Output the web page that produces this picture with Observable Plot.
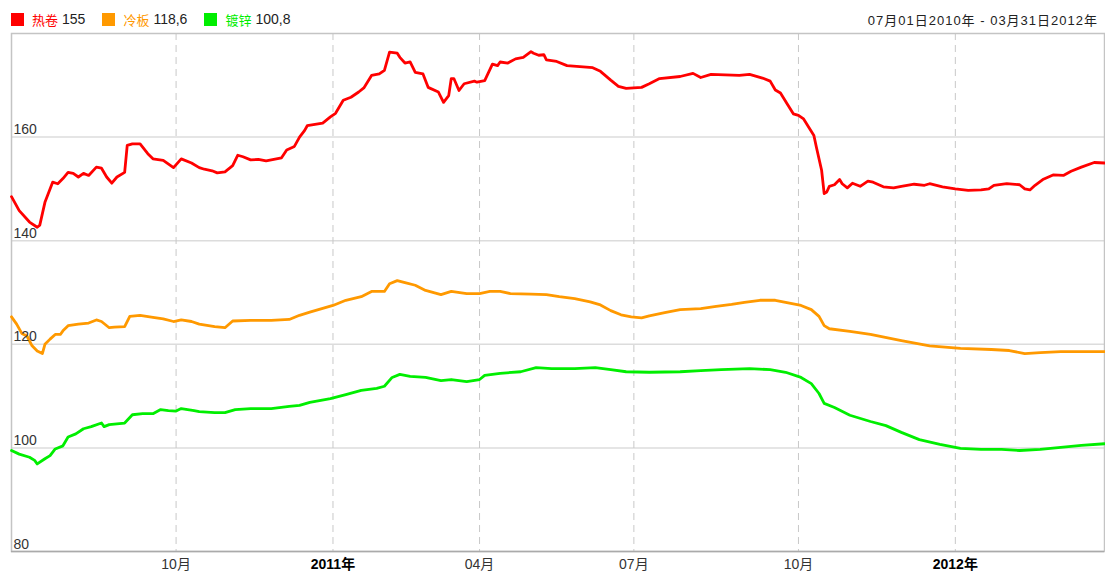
<!DOCTYPE html>
<html><head><meta charset="utf-8">
<script src="https://cdn.jsdelivr.net/npm/d3@7"></script>
<script src="https://cdn.jsdelivr.net/npm/@observablehq/plot@0.6"></script>
<style>
body{margin:0;background:#fff;font-family:"Liberation Sans",Arial,"Noto Sans CJK SC",sans-serif;}
#wrap{width:1105px;position:relative;}
#legend{height:32px;box-sizing:border-box;padding:6px 0 0 11px;display:flex;align-items:center;font-size:14px;color:#222;}
.item{display:flex;align-items:center;margin-right:17px;}
.sw{width:13px;height:13px;margin-right:8px;}
.nm{font-family:"Noto Sans CJK SC",sans-serif;font-size:13px;margin-right:4px;}
#range{position:absolute;right:7px;top:10px;font-size:13px;letter-spacing:1px;color:#222;}
</style></head><body>
<div id="wrap"><div id="legend"></div><div id="range"></div><div id="chart"></div></div>
<script>
// series meta
const seriesNames = ["热卷", "冷板", "镀锌"];
const seriesColors = ["#ff0000", "#ff9900", "#00ee00"];
const lastValues = ["155", "118,6", "100,8"];
const dateRange = "07月01日2010年 - 03月31日2012年";

// x = trading-day number since 2010-07-01
const tickDays = [64, 125, 182, 242, 306, 367];
const tickLabels = ["10月", "2011年", "04月", "07月", "10月", "2012年"];
const yTicks = [80, 100, 120, 140, 160];

// 热卷
const hot = [[0,148.5],[3,145.8],[7,143.6],[10,142.6],[11,143.0],[13,147.4],[16,151.3],[18,151.0],[20,152.0],[22,153.2],[24,153.0],[26,152.3],[28,153.0],[30,152.6],[33,154.2],[35,154.0],[37,152.3],[39,151.1],[41,152.3],[44,153.2],[45,158.4],[47,158.7],[50,158.7],[53,156.8],[55,155.8],[59,155.5],[63,154.1],[66,155.8],[70,155.0],[73,154.1],[75,153.8],[78,153.5],[80,153.1],[83,153.3],[86,154.5],[88,156.5],[90,156.2],[93,155.6],[96,155.7],[99,155.4],[101,155.6],[105,156.0],[107,157.5],[110,158.2],[112,160.0],[114,161.3],[115,162.2],[121,162.7],[124,163.9],[126,164.6],[129,167.1],[132,167.7],[135,168.7],[137,169.5],[140,171.9],[143,172.2],[145,172.9],[147,176.4],[150,176.2],[151,175.4],[153,174.3],[155,174.5],[157,172.5],[160,172.2],[162,169.6],[166,168.7],[168,166.7],[170,168.0],[171,171.3],[172,171.3],[174,169.0],[176,170.3],[180,170.8],[181,170.6],[184,170.9],[187,174.1],[189,173.8],[190,174.5],[193,174.3],[196,175.1],[199,175.4],[202,176.5],[203,176.2],[205,175.8],[207,175.9],[208,174.9],[212,174.6],[216,173.8],[221,173.6],[226,173.4],[229,172.7],[233,171.0],[236,169.8],[239,169.4],[245,169.6],[248,170.3],[252,171.3],[260,171.7],[265,172.3],[268,171.5],[272,172.1],[283,171.9],[287,172.1],[292,171.4],[295,170.8],[297,169.1],[299,168.5],[302,166.1],[304,164.5],[306,164.2],[308,163.5],[310,161.9],[312,160.3],[313,158.0],[315,153.6],[316,149.1],[317,149.4],[318,150.5],[320,150.8],[322,151.8],[323,151.0],[325,150.2],[327,151.1],[330,150.5],[333,151.5],[335,151.3],[339,150.4],[343,150.2],[346,150.5],[351,150.9],[355,150.7],[357,151.0],[362,150.4],[367,150.0],[372,149.7],[377,149.8],[380,150.0],[382,150.7],[387,151.0],[392,150.8],[394,150.0],[396,149.8],[398,150.7],[401,151.8],[405,152.7],[409,152.6],[412,153.4],[416,154.2],[421,155.1],[425,155.0]];

// 冷板
const cold = [[0,125.3],[2,123.9],[4,122.1],[6,121.6],[8,119.7],[10,118.7],[12,118.2],[13,120.0],[15,121.0],[17,121.9],[19,121.9],[20,122.6],[22,123.6],[26,123.9],[30,124.1],[33,124.7],[35,124.4],[38,123.2],[40,123.3],[44,123.4],[46,125.4],[50,125.6],[55,125.2],[59,124.9],[63,124.4],[66,124.7],[70,124.4],[73,123.9],[79,123.4],[83,123.2],[86,124.5],[93,124.6],[101,124.6],[108,124.8],[112,125.6],[116,126.2],[125,127.5],[130,128.5],[136,129.2],[140,130.2],[145,130.2],[147,131.7],[150,132.3],[153,131.9],[157,131.4],[161,130.4],[167,129.6],[171,130.2],[177,129.8],[182,129.8],[186,130.2],[190,130.2],[194,129.8],[202,129.7],[208,129.6],[213,129.2],[219,128.8],[225,128.2],[229,127.6],[233,126.5],[237,125.7],[241,125.3],[245,125.1],[248,125.5],[254,126.1],[260,126.7],[268,126.9],[274,127.3],[280,127.7],[285,128.1],[291,128.5],[297,128.5],[301,128.1],[307,127.5],[311,126.7],[314,125.4],[316,123.6],[318,123.0],[326,122.5],[334,121.9],[346,120.7],[357,119.7],[369,119.2],[381,119.0],[388,118.8],[394,118.2],[400,118.4],[408,118.6],[416,118.6],[425,118.6]];

// 镀锌
const galv = [[0,99.5],[3,98.8],[7,98.2],[9,97.6],[10,96.9],[13,97.9],[15,98.5],[17,99.8],[20,100.4],[22,102.1],[25,102.7],[28,103.7],[31,104.1],[35,104.8],[36,104.1],[38,104.5],[44,104.8],[47,106.4],[51,106.6],[55,106.6],[58,107.4],[61,107.2],[64,107.1],[66,107.6],[71,107.2],[73,107.0],[79,106.8],[83,106.8],[87,107.4],[93,107.6],[101,107.6],[108,108.0],[112,108.2],[116,108.8],[124,109.5],[130,110.3],[136,111.1],[142,111.5],[145,111.9],[148,113.6],[151,114.2],[155,113.8],[161,113.6],[167,113.0],[171,113.2],[177,112.8],[182,113.2],[184,114.0],[190,114.4],[198,114.7],[204,115.5],[210,115.3],[219,115.3],[227,115.5],[233,115.1],[239,114.7],[248,114.6],[260,114.7],[268,114.9],[276,115.1],[287,115.3],[295,115.1],[301,114.6],[307,113.6],[311,112.4],[314,110.5],[316,108.6],[320,107.8],[326,106.3],[334,105.1],[340,104.3],[346,103.0],[353,101.6],[361,100.7],[369,99.9],[377,99.7],[385,99.7],[392,99.5],[400,99.7],[408,100.1],[416,100.5],[425,100.8]];

const seriesData = [hot, cold, galv];

// legend
const legend = document.getElementById("legend");
seriesNames.forEach((n, i) => {
  const it = document.createElement("div"); it.className = "item";
  it.innerHTML = `<div class="sw" style="background:${seriesColors[i]}"></div><span class="nm" style="color:${seriesColors[i]}">${n}</span><span>${lastValues[i]}</span>`;
  legend.appendChild(it);
});
document.getElementById("range").textContent = dateRange;

const rows = seriesData.flatMap((s, i) => s.map(([day, value]) => ({day, value, series: seriesNames[i]})));
const ticks = tickDays.map((d, i) => ({d, label: tickLabels[i], year: tickLabels[i].endsWith("年")}));
const font = '"Liberation Sans", Arial, "Noto Sans CJK SC", sans-serif';

const chart = Plot.plot({
  width: 1105, height: 542,
  marginLeft: 11, marginRight: 1, marginTop: 1, marginBottom: 23,
  x: {domain: [0, 425], axis: null},
  y: {domain: [80, 180], axis: null},
  color: {domain: seriesNames, range: seriesColors},
  style: {fontFamily: font, background: "#fff", overflow: "visible"},
  marks: [
    Plot.ruleY(yTicks.slice(1), {stroke: "#dcdcdc", strokeWidth: 1.5}),
    Plot.ruleX(tickDays, {stroke: "#c8c8c8", strokeDasharray: "7,5", strokeWidth: 1}),
    Plot.frame({stroke: "#c4c4c4", strokeWidth: 1.5}),
    Plot.ruleY([80], {stroke: "#aaa", strokeWidth: 1.5}),
    Plot.line(rows, {x: "day", y: "value", z: "series", stroke: "series", strokeWidth: 2.8, strokeLinejoin: "round"}),
    Plot.text(yTicks, {x: 0, y: d => d, text: d => String(d), textAnchor: "start", lineAnchor: "bottom", dx: 2, dy: -3, fontSize: 14, fill: "#333"}),
    Plot.text(ticks.filter(t => !t.year), {x: "d", y: 80, text: "label", lineAnchor: "top", dy: 8, fontSize: 14, fill: "#333"}),
    Plot.text(ticks.filter(t => t.year), {x: "d", y: 80, text: "label", lineAnchor: "top", dy: 8, fontSize: 14, fontWeight: "bold", fill: "#000"})
  ]
});
document.getElementById("chart").appendChild(chart);
</script>
</body></html>
